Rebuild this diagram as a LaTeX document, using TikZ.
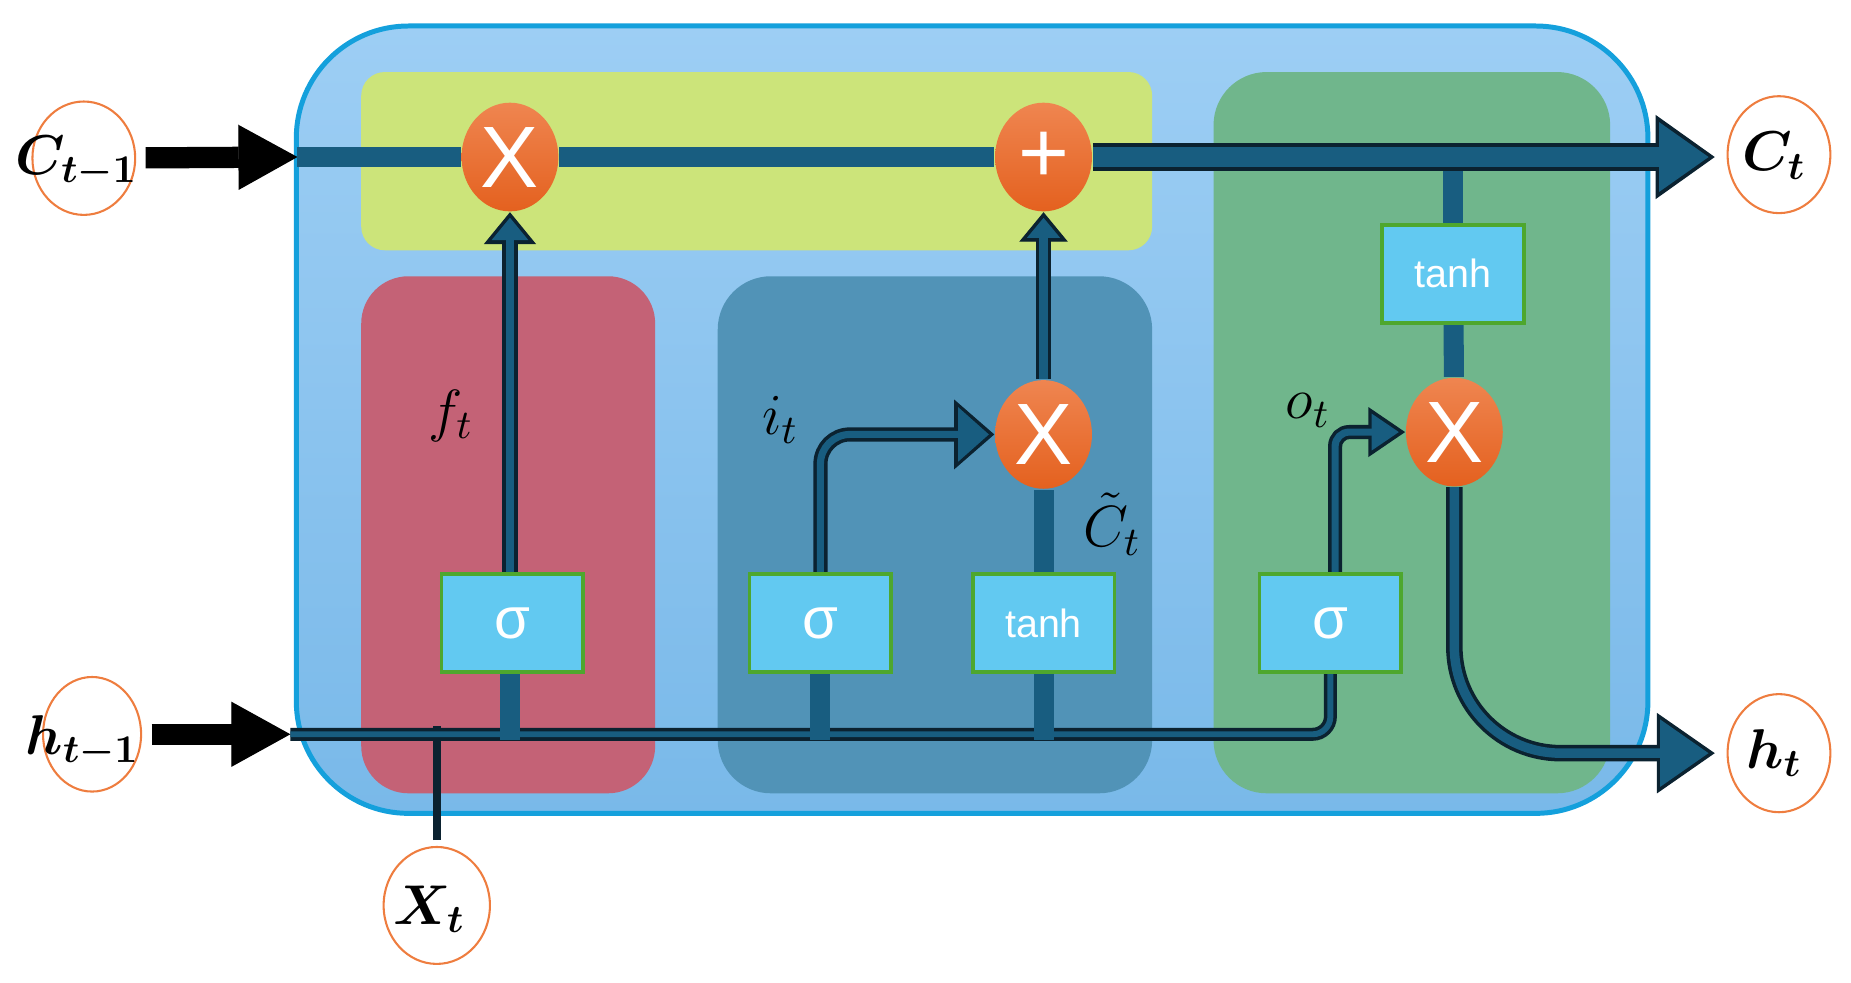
\RequirePackage{fix-cm}
\documentclass[tikz,border=0pt]{standalone}
\usepackage{amsmath}
\usepackage{fontspec}
\newfontfamily\boxfont{Liberation Sans}
\usetikzlibrary{arrows.meta,shapes.geometric}
\pgfdeclarelayer{panels}
\pgfdeclarelayer{wires}
\pgfsetlayers{panels,wires,main}

\definecolor{cellbg}{HTML}{9DCEF4}
\definecolor{cellbgb}{HTML}{79B9E9}
\definecolor{cellrim}{HTML}{14A0DC}
\definecolor{statebg}{HTML}{CCE47A}
\definecolor{forgetbg}{HTML}{C46276}
\definecolor{inputbg}{HTML}{5193B7}
\definecolor{outputbg}{HTML}{70B68C}
\definecolor{wire}{HTML}{185D80}
\definecolor{wirerim}{HTML}{0B2230}
\definecolor{gatefill}{HTML}{62C9F1}
\definecolor{gaterim}{HTML}{4EA72E}
\definecolor{optop}{HTML}{EF8550}
\definecolor{opbot}{HTML}{E4611F}
\definecolor{ringcol}{HTML}{EE7D3F}

\tikzset{
  gate/.style={rectangle, fill=gatefill, draw=gaterim, line width=0.9pt,
    minimum width=1.2cm, minimum height=0.83cm, inner sep=0pt, text=white,
    font=\boxfont\fontsize{9.5}{10}\selectfont},
  sig/.style={gate, font=\boxfont\fontsize{14}{16}\selectfont},
  op/.style={ellipse, minimum width=0.82cm, minimum height=0.92cm, inner sep=0pt,
    top color=optop, bottom color=opbot, text=white,
    font=\boxfont\fontsize{21}{22}\selectfont},
  ring/.style={ellipse, draw=ringcol, line width=0.5pt, inner sep=0pt},
  lab/.style={inner sep=0pt, font=\fontsize{13.5}{15}\selectfont},
  glab/.style={inner sep=0pt, font=\fontsize{14}{16}\selectfont},
  rim/.style={draw=wirerim, line width=#1},
  core/.style={draw=wire, line width=#1},
  feed/.style={draw=black, line width=0.18cm,
    -{Triangle[width=0.55cm,length=0.5cm,line width=0.3pt]}}
}

\begin{document}
\begin{tikzpicture}[x=0.01cm, y=-0.01cm]
    \useasboundingbox (0,0) rectangle (1568,832);

    % Coordinates where the wires enter the cell
    \coordinate (cin) at (252,133);
    \coordinate (hin) at (246,622);
    \coordinate (hstub) at (0,627);
    \coordinate (xtop) at (370,615);

    % Panels of the cell
    \begin{pgfonlayer}{panels}
    \path[draw=cellrim, line width=1.2pt, top color=cellbg, bottom color=cellbgb,
        rounded corners=0.95cm] (251,22) rectangle (1396,689);
    \fill[statebg, rounded corners=0.2cm] (306,61) rectangle (976,212);
    \fill[forgetbg, rounded corners=0.4cm] (306,234) rectangle (555,672);
    \fill[inputbg, rounded corners=0.45cm] (608,234) rectangle (976,672);
    \fill[outputbg, rounded corners=0.45cm] (1028,61) rectangle (1364,672);
    \end{pgfonlayer}

    % Pointwise operations
    \node[op] (mul1) at (432,133) {X};
    \node[op] (add) at (884,133) {+};
    \node[op] (mul2) at (884,368) {X};
    \node[op] (mul3) at (1232,366) {X};

    % Activation boxes
    \node[sig] (sgf) at (434,528) {σ};
    \node[sig] (sgi) at (695,528) {σ};
    \node[gate] (tanhc) at (884,528) {tanh};
    \node[sig] (sgo) at (1127,528) {σ};
    \node[gate] (tanhh) at (1231,232) {tanh};

    % Inputs and outputs
    \node[ring, minimum width=0.87cm, minimum height=0.96cm] (cprev) at (71,134) {};
    \node[ring, minimum width=0.83cm, minimum height=0.97cm] (hprev) at (78,622) {};
    \node[ring, minimum width=0.90cm, minimum height=0.99cm] (xt) at (370,767) {};
    \node[ring, minimum width=0.87cm, minimum height=0.99cm] (ct) at (1507,131) {};
    \node[ring, minimum width=0.87cm, minimum height=1.0cm] (ht) at (1507,638) {};
    \node[lab] (cprevlab) at (65,137) {$\boldsymbol{C_{t-1}}$};
    \node[lab] (hprevlab) at (70,628) {$\boldsymbol{h_{t-1}}$};
    \node[lab] (xtlab) at (364,770) {$\boldsymbol{X_t}$};
    \node[lab] (ctlab) at (1503,132) {$\boldsymbol{C_t}$};
    \node[lab] (htlab) at (1503,638) {$\boldsymbol{h_t}$};

    % Gate labels
    \node[glab] (flab) at (382,352) {$f_t$};
    \node[glab] (ilab) at (661,356) {$i_t$};
    \node[glab] (olab) at (1108,348) {$o_t$};
    \node[glab] (cclab) at (942,444) {$\tilde{C}_t$};

    \begin{pgfonlayer}{wires}
    % Cell state
    \draw[feed, shorten <=0.08cm] (cprev) -- (cin);
    \draw[core=0.17cm] (cin) -- (mul1) -- (add);
    \draw[core=0.17cm] (tanhh) -- (tanhh |- add);
    \draw[core=0.17cm] (tanhh) -- (mul3);
    \draw[rim=0.23cm, -{Triangle[width=0.71cm,length=0.5cm,line width=0.3pt]},
        shorten >=0.1cm] (add) -- (add -| ct.west);
    \draw[core=0.17cm, -{Triangle[width=0.59cm,length=0.42cm,line width=0.3pt]},
        shorten >=0.152cm] (add) -- (add -| ct.west);

    % Hidden state and input
    \draw[wirerim, line width=0.07cm, shorten <=0.05cm] (xt) -- (xtop);
    \draw[rim=0.11cm, rounded corners=0.15cm] (hin) -| (sgo);
    \draw[core=0.05cm, rounded corners=0.15cm] (hin) -| (sgo);
    \draw[feed, shorten <=0.08cm] (hprev) -- (hin);
    \draw[core=0.17cm] ([xshift=-0.02cm]sgf.south) -- ([xshift=-0.02cm]sgf.south |- hstub);
    \draw[core=0.17cm] (sgi) -- (sgi |- hstub);
    \draw[core=0.17cm] (tanhc) -- (tanhc |- hstub);

    % Forget gate
    \draw[rim=0.13cm, -{Triangle[width=0.44cm,length=0.27cm,line width=0.3pt]}] (mul1 |- sgf.north) -- (mul1);
    \draw[core=0.07cm, -{Triangle[width=0.31cm,length=0.19cm,line width=0.3pt]},
        shorten >=0.047cm] (mul1 |- sgf.north) -- (mul1);

    % Input gate
    \draw[rim=0.12cm, rounded corners=0.25cm,
        -{Triangle[width=0.59cm,length=0.34cm,line width=0.3pt]}] (sgi) |- (mul2);
    \draw[core=0.06cm, rounded corners=0.25cm,
        -{Triangle[width=0.46cm,length=0.26cm,line width=0.3pt]}, shorten >=0.046cm] (sgi) |- (mul2);
    \draw[core=0.17cm] (tanhc) -- (mul2);
    \draw[rim=0.13cm, -{Triangle[width=0.41cm,length=0.25cm,line width=0.3pt]}] (mul2) -- (add);
    \draw[core=0.07cm, -{Triangle[width=0.28cm,length=0.17cm,line width=0.3pt]},
        shorten >=0.048cm] (mul2) -- (add);

    % Output gate
    \draw[rim=0.12cm, rounded corners=0.12cm,
        -{Triangle[width=0.42cm,length=0.31cm,line width=0.3pt]}] ([xshift=0.04cm]sgo.north) |- (mul3);
    \draw[core=0.06cm, rounded corners=0.12cm,
        -{Triangle[width=0.31cm,length=0.23cm,line width=0.3pt]}, shorten >=0.053cm] ([xshift=0.04cm]sgo.north) |- (mul3);
    \draw[rim=0.14cm, rounded corners=0.9cm,
        -{Triangle[width=0.68cm,length=0.49cm,line width=0.3pt]}, shorten >=0.1cm] (mul3) |- (ht);
    \draw[core=0.08cm, rounded corners=0.9cm,
        -{Triangle[width=0.57cm,length=0.41cm,line width=0.3pt]}, shorten >=0.153cm] (mul3) |- (ht);
    \end{pgfonlayer}
\end{tikzpicture}
\end{document}
